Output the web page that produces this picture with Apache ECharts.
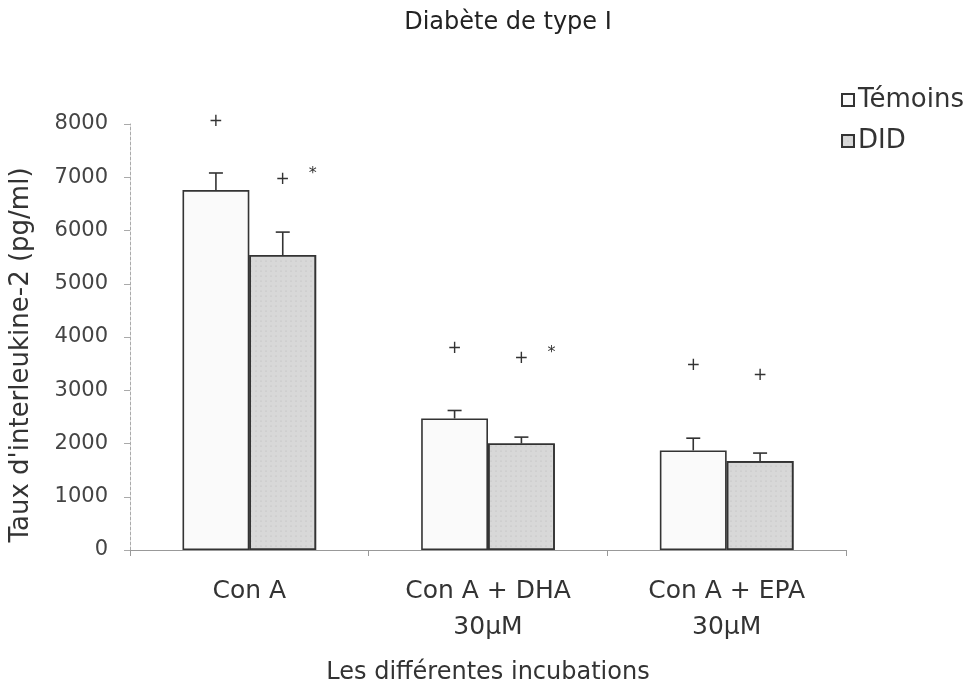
<!DOCTYPE html>
<html><head><meta charset="utf-8">
<script src="https://cdn.jsdelivr.net/npm/echarts@6/dist/echarts.min.js"></script>
<style>html,body{margin:0;padding:0;background:#fff}#c{width:972px;height:686px}</style>
</head><body><div id="c"></div>
<script>
const categories = ['Con A', 'Con A + DHA\n30µM', 'Con A + EPA\n30µM'];
const temoins = [6760, 2470, 1870];
const temoinsErr = [320, 150, 230];
const did = [5540, 2000, 1670];
const didErr = [430, 120, 150];
const plusTemoins = [8050, 3780, 3460];
const plusDID = [6960, 3600, 3280];
const starDID = [7060, 3700, null];
const yTicks = [0, 1000, 2000, 3000, 4000, 5000, 6000, 7000, 8000];

const FONT = '"DejaVu Sans", Verdana, sans-serif';
const ink = '#333';
const chart = echarts.init(document.getElementById('c'));

function errSeries(name, vals, errs, sign) {
  return {
    type: 'custom', name: name + '_err', silent: true, z: 5,
    data: vals.map((v, i) => [i, v, v + errs[i]]),
    renderItem: function (params, api) {
      const bw = api.size([1, 0])[0];
      const off = sign * bw * 0.14;
      const p0 = api.coord([api.value(0), api.value(1)]);
      const p1 = api.coord([api.value(0), api.value(2)]);
      const x = p0[0] + off;
      const hw = 7;
      return { type: 'group', children: [
        { type: 'line', shape: { x1: x, y1: p0[1], x2: x, y2: p1[1] }, style: { stroke: ink, lineWidth: 1.6 } },
        { type: 'line', shape: { x1: x - hw, y1: p1[1], x2: x + hw, y2: p1[1] }, style: { stroke: ink, lineWidth: 1.6 } }
      ]};
    }
  };
}
function markSeries(name, vals, sign, dx, txt, size) {
  return {
    type: 'custom', name: name, silent: true, z: 6, clip: false,
    data: vals.map((v, i) => [i, v]).filter(d => d[1] != null),
    renderItem: function (params, api) {
      const bw = api.size([1, 0])[0];
      const p = api.coord([api.value(0), api.value(1)]);
      return { type: 'text', style: { text: txt, x: p[0] + sign * bw * 0.14 + dx, y: p[1], align: 'center', verticalAlign: 'middle', fill: ink, font: size + 'px ' + FONT } };
    }
  };
}

chart.setOption({
  animation: false,
  backgroundColor: '#fff',
  title: { text: 'Diabète de type I', left: 503, top: 6, textAlign: 'center',
    textStyle: { fontFamily: FONT, fontSize: 24, fontWeight: 'normal', color: '#222' } },
  legend: { data: ['Témoins', 'DID'], orient: 'vertical', left: 841, top: 87, padding: 0, itemWidth: 12, itemHeight: 12, itemGap: 15,
    icon: 'rect', textStyle: { fontFamily: FONT, fontSize: 26, color: ink, padding: [0, 0, 0, -1] } },
  grid: { left: 130, right: 126, top: 124, bottom: 136, outerBoundsMode: 'none', containLabel: false },
  xAxis: {
    type: 'category', data: categories,
    name: 'Les différentes incubations', nameLocation: 'middle', nameGap: 111,
    nameTextStyle: { fontFamily: FONT, fontSize: 24, color: ink },
    axisLine: { lineStyle: { color: '#999', width: 1 } },
    axisTick: { show: true, alignWithLabel: false, length: 6, lineStyle: { color: '#999' } },
    axisLabel: { fontFamily: FONT, fontSize: 25, color: ink, margin: 23, lineHeight: 36 }
  },
  yAxis: {
    type: 'value', min: 0, max: 8000, interval: 1000,
    name: "Taux d'interleukine-2 (pg/ml)", nameLocation: 'middle', nameGap: 96, nameRotate: 90,
    nameTextStyle: { fontFamily: FONT, fontSize: 26, color: ink, padding: [0, 36, 0, 0] },
    axisLine: { show: true, lineStyle: { color: '#aaa', width: 1, type: [3, 2] } },
    axisTick: { show: true, length: 6, lineStyle: { color: '#aaa' } },
    splitLine: { show: false },
    axisLabel: { fontFamily: FONT, fontSize: 21, color: '#444', margin: 22,
      formatter: v => yTicks.indexOf(v) >= 0 ? String(v) : '' }
  },
  series: [
    { name: 'Témoins', type: 'bar', data: temoins, barGap: '0%', barCategoryGap: '44%',
      itemStyle: { color: '#fafafa', borderColor: ink, borderWidth: 1.6 } },
    { name: 'DID', type: 'bar', data: did, barGap: '0%', barCategoryGap: '44%',
      itemStyle: { color: '#d8d8d8', borderColor: ink, borderWidth: 1.6,
        decal: { symbol: 'circle', symbolSize: 0.5, color: 'rgba(140,140,140,0.5)', dashArrayX: [2, 3], dashArrayY: [2, 3] } } },
    errSeries('Témoins', temoins, temoinsErr, -1),
    errSeries('DID', did, didErr, 1),
    markSeries('plusT', plusTemoins, -1, 0, '+', 17),
    markSeries('plusD', plusDID, 1, 0, '+', 17),
    markSeries('starD', starDID, 1, 30, '*', 16)
  ]
});
</script></body></html>
